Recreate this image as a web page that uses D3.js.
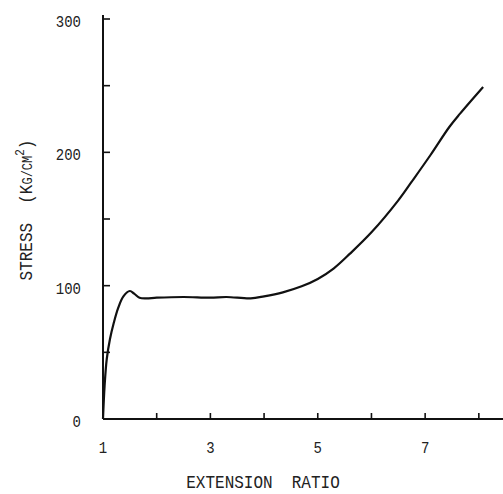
<!DOCTYPE html>
<html><head><meta charset="utf-8">
<script src="https://cdn.jsdelivr.net/npm/d3@7"></script>
<style>
body{margin:0;background:#fff;}
text{font-family:"Liberation Mono","DejaVu Sans Mono",monospace;fill:#222;}
</style></head>
<body><svg id="c" width="503" height="494"></svg>
<script>
const extension = [1, 1.03, 1.07, 1.13, 1.2, 1.28, 1.38, 1.5, 1.58, 1.68, 1.8, 2.0, 2.5, 3.0, 3.3, 3.75, 4.0, 4.35, 4.7, 5.0, 5.3, 5.6, 6.0, 6.5, 6.75, 7.1, 7.45, 7.65, 8.08];
const stress    = [0, 25, 45, 60, 72, 83, 92, 96, 94, 91, 90.5, 91, 91.5, 91, 91.5, 90.5, 92, 95, 99.5, 105, 113, 124, 140, 164, 178, 198, 219, 229, 249];
const xTickValues = [1, 2, 3, 4, 5, 6, 7, 8];
const xTickLabels = ["1", "", "3", "", "5", "", "7", ""];
const yTickValues = [0, 50, 100, 150, 200, 250, 300];
const yTickLabels = ["0", "", "100", "", "200", "", "300"];

const svg = d3.select("#c");
const x = d3.scaleLinear().domain([1, 8.45]).range([103, 503]);
const y = d3.scaleLinear().domain([0, 300]).range([419, 19]);

// x axis
const gx = svg.append("g").attr("transform", `translate(0,${y(0)})`);
gx.append("line").attr("x1", x(1)).attr("x2", x(8.45)).attr("stroke", "#111").attr("stroke-width", 2);
gx.selectAll(".xt").data(xTickValues.slice(1)).enter().append("line")
  .attr("x1", d => x(d)).attr("x2", d => x(d)).attr("y1", 0).attr("y2", -6)
  .attr("stroke", "#111").attr("stroke-width", 1.6);
gx.selectAll(".xl").data(xTickValues).enter().append("text")
  .attr("transform", d => `translate(${x(d)},34) scale(1,1.2)`).attr("text-anchor", "middle")
  .attr("font-size", 14).text((d, i) => xTickLabels[i]);

// y axis
const gy = svg.append("g").attr("transform", `translate(${x(1)},0)`);
gy.append("line").attr("y1", y(0)).attr("y2", y(303)).attr("stroke", "#111").attr("stroke-width", 2);
gy.selectAll(".yt").data(yTickValues.slice(1)).enter().append("line")
  .attr("y1", d => y(d)).attr("y2", d => y(d)).attr("x1", 0).attr("x2", 7)
  .attr("stroke", "#111").attr("stroke-width", 1.6);
gy.selectAll(".yl").data(yTickValues).enter().append("text")
  .attr("transform", d => `translate(-22,${y(d) + 8}) scale(1,1.2)`).attr("text-anchor", "end")
  .attr("font-size", 14).text((d, i) => yTickLabels[i]);

// curve
const pts = extension.map((e, i) => [e, stress[i]]);
const line = d3.line().x(d => x(d[0])).y(d => y(d[1])).curve(d3.curveCatmullRom.alpha(0.5));
svg.append("path").attr("d", line(pts)).attr("fill", "none")
  .attr("stroke", "#111").attr("stroke-width", 2.2).attr("stroke-linejoin", "round");

// titles
svg.append("text").attr("transform", "translate(263,488) scale(1,1.2)").attr("text-anchor", "middle")
  .attr("font-size", 16).style("white-space", "pre")
  .text("EXTENSION  RATIO");

const yt = svg.append("text").attr("transform", "translate(32,210) rotate(-90) scale(1,1.2)")
  .attr("text-anchor", "middle").attr("font-size", 16).style("white-space", "pre");
yt.append("tspan").text("STRESS  (K");
yt.append("tspan").attr("font-size", 12).text("G/CM");
yt.append("tspan").attr("font-size", 11).attr("dy", -7).text("2");
yt.append("tspan").attr("dy", 7).text(")");
</script></body></html>
